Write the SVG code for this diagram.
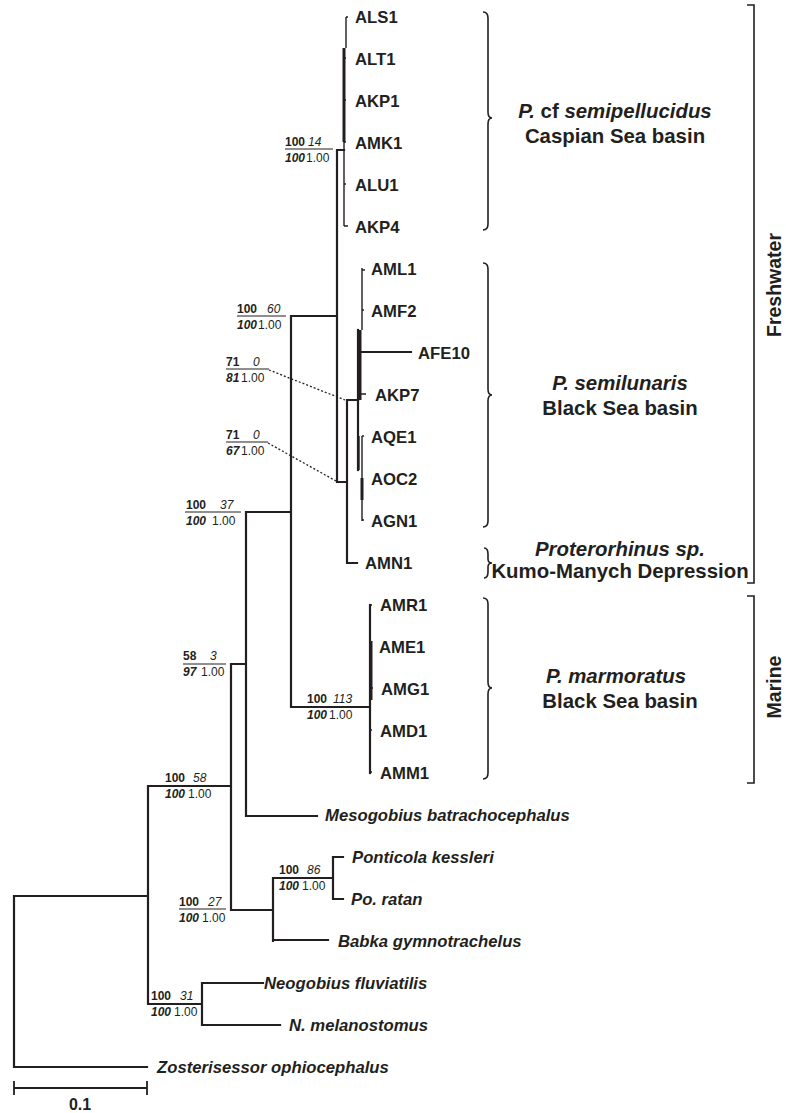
<svg xmlns="http://www.w3.org/2000/svg" width="786" height="1113" viewBox="0 0 786 1113">
<style>
text{font-family:"Liberation Sans",Arial,sans-serif;fill:#231f20}
.leaf{font-size:16.7px;font-weight:bold}
.sp{font-style:italic}
.clade{font-size:20.4px;font-weight:bold;text-anchor:middle}
.sup{font-size:12px}
.b{font-weight:bold}
.i{font-style:italic}
.br{fill:none;stroke:#231f20;stroke-width:2.2;stroke-linecap:square}
.thin{fill:none;stroke:#231f20;stroke-width:1.4}
.thick{fill:none;stroke:#231f20;stroke-width:3}
.dot{fill:none;stroke:#231f20;stroke-width:1.3;stroke-dasharray:2,2}
.bar{fill:none;stroke:#231f20;stroke-width:1.2}
.brace{fill:none;stroke:#231f20;stroke-width:1.6}
.group{font-size:19.5px;font-weight:bold;text-anchor:middle}
</style>
<rect width="786" height="1113" fill="#fff"/>
<g id="connectors">
<path class="br" d="M14,896 V1067 H147 M14,896 H148 M148,786 V1004 M148,786 H231 M231,664 V910 M148,1004 H202 M202,983 V1025 M202,983 H263 M202,1025 H280 M231,910 H273 M273,878 V941 M273,940 H328 M273,878 H333 M333,857 V899 M333,857 H343 M333,899 H343 M231,664 H246 M246,512 V816 M246,816 H317 M246,512 H291 M291,316 V707 M291,707 H369 M291,316 H337 M337,150 V482 M337,150 H344 M337,482 H347 M347,400 V563 M347,563 H357 M347,400 H358"/>
<path class="br" d="M370,605 V773"/>
<path class="thick" d="M371,641 V700"/>
<path class="thin" d="M370,605 H372 M370,646 H372 M370,688 H373 M370,730 H372 M370,772 H372"/>
<path class="thin" d="M346,17 V48 M346,17 H348 M344,142 V226 M344,226 H348 M344,58 H346 M344,100 H346 M344,142 H346 M344,184 H346"/>
<path class="thick" d="M344,48 V142"/>
<path class="br" d="M358,330 V470"/>
<path class="thick" d="M360,330 V400"/>
<path class="thin" d="M362,268 V330 M362,270 H365 M362,310 H364 M361,394 H366 M362,436 V521 M362,436 H364 M362,520 H364 M359,436 V470"/>
<path class="br" d="M360,352 H411"/>
<path class="thick" d="M362,478 V500"/>
<path class="dot" d="M269,370 L345,400 M268,443 L336,481"/>
<path class="bar" d="M285,149 H333 M237,316 H286 M226,369 H269 M226,442 H268 M185,512 H241 M183,664 H226 M179,909 H226"/>
</g>
<g id="leaves">
<text class="leaf" x="355" y="23">ALS1</text>
<text class="leaf" x="355" y="65">ALT1</text>
<text class="leaf" x="355" y="107">AKP1</text>
<text class="leaf" x="355" y="149">AMK1</text>
<text class="leaf" x="355" y="191">ALU1</text>
<text class="leaf" x="355" y="233">AKP4</text>
<text class="leaf" x="371" y="275">AML1</text>
<text class="leaf" x="371" y="317">AMF2</text>
<text class="leaf" x="418" y="359">AFE10</text>
<text class="leaf" x="375" y="401">AKP7</text>
<text class="leaf" x="371" y="443">AQE1</text>
<text class="leaf" x="371" y="485">AOC2</text>
<text class="leaf" x="371" y="527">AGN1</text>
<text class="leaf" x="365" y="569">AMN1</text>
<text class="leaf" x="380" y="611">AMR1</text>
<text class="leaf" x="379" y="653">AME1</text>
<text class="leaf" x="381" y="695">AMG1</text>
<text class="leaf" x="380" y="737">AMD1</text>
<text class="leaf" x="380" y="779">AMM1</text>
<text class="leaf sp" x="325" y="821">Mesogobius batrachocephalus</text>
<text class="leaf sp" x="352" y="863">Ponticola kessleri</text>
<text class="leaf sp" x="351" y="905">Po. ratan</text>
<text class="leaf sp" x="338" y="947">Babka gymnotrachelus</text>
<text class="leaf sp" x="264" y="989">Neogobius fluviatilis</text>
<text class="leaf sp" x="289" y="1031">N. melanostomus</text>
<text class="leaf sp" x="157" y="1073">Zosterisessor ophiocephalus</text>
</g>
<g id="support">
<text class="sup" y="146"><tspan class="b" x="285">100</tspan><tspan class="i" x="308">14</tspan></text>
<text class="sup" y="162"><tspan class="b i" x="285">100</tspan><tspan x="306">1.00</tspan></text>
<text class="sup" y="313"><tspan class="b" x="237">100</tspan><tspan class="i" x="267">60</tspan></text>
<text class="sup" y="329"><tspan class="b i" x="237">100</tspan><tspan x="258">1.00</tspan></text>
<text class="sup" y="366"><tspan class="b" x="226">71</tspan><tspan class="i" x="253">0</tspan></text>
<text class="sup" y="382"><tspan class="b i" x="226">81</tspan><tspan x="241">1.00</tspan></text>
<text class="sup" y="439"><tspan class="b" x="226">71</tspan><tspan class="i" x="253">0</tspan></text>
<text class="sup" y="455"><tspan class="b i" x="226">67</tspan><tspan x="241">1.00</tspan></text>
<text class="sup" y="509"><tspan class="b" x="186">100</tspan><tspan class="i" x="220">37</tspan></text>
<text class="sup" y="525"><tspan class="b i" x="186">100</tspan><tspan x="212">1.00</tspan></text>
<text class="sup" y="660"><tspan class="b" x="183">58</tspan><tspan class="i" x="210">3</tspan></text>
<text class="sup" y="676"><tspan class="b i" x="183">97</tspan><tspan x="201">1.00</tspan></text>
<text class="sup" y="703"><tspan class="b" x="307">100</tspan><tspan class="i" x="333">113</tspan></text>
<text class="sup" y="719"><tspan class="b i" x="307">100</tspan><tspan x="329">1.00</tspan></text>
<text class="sup" y="782"><tspan class="b" x="165">100</tspan><tspan class="i" x="193">58</tspan></text>
<text class="sup" y="798"><tspan class="b i" x="165">100</tspan><tspan x="188">1.00</tspan></text>
<text class="sup" y="906"><tspan class="b" x="179">100</tspan><tspan class="i" x="208">27</tspan></text>
<text class="sup" y="922"><tspan class="b i" x="179">100</tspan><tspan x="202">1.00</tspan></text>
<text class="sup" y="874"><tspan class="b" x="279">100</tspan><tspan class="i" x="307">86</tspan></text>
<text class="sup" y="890"><tspan class="b i" x="279">100</tspan><tspan x="302">1.00</tspan></text>
<text class="sup" y="1000"><tspan class="b" x="151">100</tspan><tspan class="i" x="180">31</tspan></text>
<text class="sup" y="1016"><tspan class="b i" x="151">100</tspan><tspan x="174">1.00</tspan></text>
</g>
<g id="brace-semipellucidus">
<path class="brace" d="M483,12 Q488,12 488,18 V112 Q488,118 492,118 Q488,118 488,124 V224 Q488,230 483,230"/>
<text class="clade" x="615" y="118"><tspan font-style="italic">P.</tspan> cf <tspan font-style="italic">semipellucidus</tspan></text>
<text class="clade" x="615" y="143">Caspian Sea basin</text>
</g>
<g id="brace-semilunaris">
<path class="brace" d="M483,263 Q488,263 488,269 V389 Q488,395 492,395 Q488,395 488,401 V521 Q488,527 483,527"/>
<text class="clade" x="620" y="390" font-style="italic">P. semilunaris</text>
<text class="clade" x="620" y="415">Black Sea basin</text>
</g>
<g id="brace-proterorhinus">
<path class="brace" d="M484,548 Q488,548 488,554 V559 Q488,563 492,563 Q488,563 488,567 V572 Q488,578 484,578"/>
<text class="clade" x="620" y="556" font-style="italic">Proterorhinus sp.</text>
<text class="clade" x="620" y="578">Kumo-Manych Depression</text>
</g>
<g id="brace-marmoratus">
<path class="brace" d="M483,598 Q488,598 488,604 V682 Q488,688 492,688 Q488,688 488,694 V773 Q488,779 483,779"/>
<text class="clade" x="616" y="683" font-style="italic">P. marmoratus</text>
<text class="clade" x="620" y="708">Black Sea basin</text>
</g>
<g id="freshwater">
<path class="brace" d="M747,5 H754 V583 H747"/>
<text class="group" transform="translate(781,285) rotate(-90)">Freshwater</text>
</g>
<g id="marine">
<path class="brace" d="M747,596 H754 V783 H747"/>
<text class="group" transform="translate(781,687) rotate(-90)">Marine</text>
</g>
<g id="scale">
<path class="br" d="M14,1088 H147 M14,1082 V1094 M147,1082 V1094" style="stroke-width:1.8"/>
<text x="80" y="1110" font-size="16" font-weight="bold" text-anchor="middle">0.1</text>
</g>
</svg>
